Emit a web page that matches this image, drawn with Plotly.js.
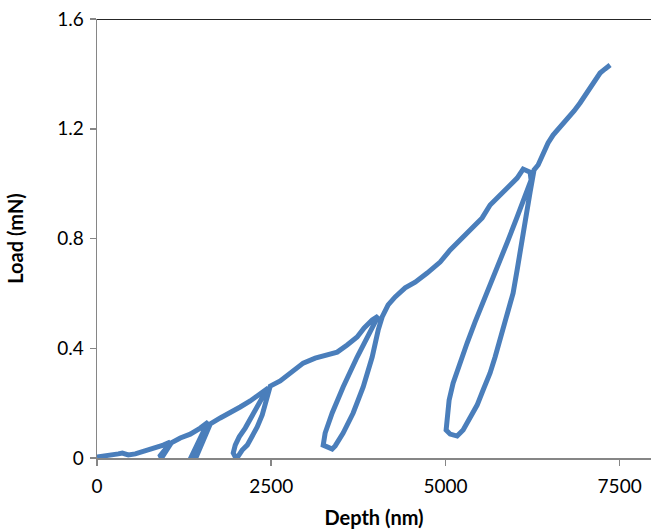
<!DOCTYPE html>
<html>
<head>
<meta charset="utf-8">
<script src="https://cdn.plot.ly/plotly-3.0.1.min.js"></script>
<style>html,body{margin:0;padding:0;background:#fff;}#chart{width:651px;height:530px;}</style>
</head>
<body>
<div id="chart"></div>
<script>
// Depth (nm) and Load (mN), in drawing order
const depthNm = [
  0,119,219,306,363,449,549,693,836,951,1051,
  1023,951,894,937,994,1066,
  1195,1338,1482,1597,
  1525,1439,1353,1424,1496,1568,1625,
  1769,1912,2055,2199,2342,2457,
  2385,2299,2199,2127,2041,1984,1955,1984,
  2027,2084,2156,2228,2299,2371,2414,2457,2486,
  2629,2816,2959,3131,3303,3447,3590,3733,3834,3949,4035,
  3877,3733,3532,3375,3274,3246,3375,
  3418,3532,3676,3820,3949,4035,4092,
  4178,4279,4422,4566,4738,4924,5068,5168,5283,5398,5527,5641,5784,5928,6029,6115,6215,
  6229,6143,6028,5900,5785,5656,5541,5426,5311,5211,5110,5053,5024,5010,5068,5168,
  5254,5354,5455,5541,5641,5713,5785,5885,5971,6029,6072,6129,6172,6215,6244,6272,
  6330,6401,6473,6545,6645,6746,6846,6932,7004,7076,7148,7219,7291,7363
];
const loadMn = [
  0.004,0.007,0.011,0.015,0.018,0.011,0.015,0.026,0.036,0.047,0.058,
  0.044,0.022,0.004,0.004,0.029,0.055,
  0.073,0.087,0.109,0.131,
  0.095,0.051,0.004,0.004,0.044,0.087,0.124,
  0.146,0.164,0.186,0.208,0.233,0.255,
  0.226,0.186,0.146,0.109,0.077,0.047,0.018,0.004,
  0.007,0.029,0.047,0.080,0.113,0.157,0.193,0.230,0.262,
  0.281,0.321,0.346,0.364,0.375,0.386,0.412,0.441,0.474,0.503,0.517,
  0.441,0.368,0.259,0.164,0.091,0.047,0.033,
  0.044,0.091,0.164,0.259,0.368,0.466,0.514,
  0.558,0.587,0.620,0.641,0.674,0.714,0.758,0.784,0.809,0.842,0.875,0.922,0.958,0.999,1.020,1.053,1.042,
  1.013,0.951,0.878,0.794,0.722,0.641,0.576,0.496,0.419,0.346,0.273,0.211,0.149,0.102,0.087,0.080,
  0.102,0.149,0.193,0.248,0.310,0.368,0.430,0.517,0.601,0.685,0.758,0.838,0.904,0.969,1.024,1.050,
  1.068,1.112,1.148,1.177,1.206,1.232,1.265,1.294,1.323,1.352,1.378,1.403,1.418,1.432
];
const xTickVals = [0, 2500, 5000, 7500];
const xTickText = ["0", "2500", "5000", "7500"];
const yTickVals = [0, 0.4, 0.8, 1.2, 1.6];
const yTickText = ["0", "0.4", "0.8", "1.2", "1.6"];
const xTitle = "Depth (nm)";
const yTitle = "Load (mN)";

const trace = {
  x: depthNm, y: loadMn, type: 'scatter', mode: 'lines',
  line: {color: '#4A7EBB', width: 5, shape: 'linear'},
  hoverinfo: 'skip'
};

const axisCommon = {
  showgrid: false, zeroline: false, showline: true,
  linecolor: '#868686', linewidth: 1.5,
  ticks: 'outside', ticklen: 6, tickwidth: 1.5, tickcolor: '#868686',
  tickfont: {family: 'Lato, sans-serif', size: 19, color: '#000'}
};

const layout = {
  width: 651, height: 530,
  margin: {l: 97, r: 0, t: 19, b: 72},
  paper_bgcolor: '#fff', plot_bgcolor: '#fff',
  showlegend: false,
  xaxis: Object.assign({}, axisCommon, {
    range: [0, 7950], tickmode: 'array', tickvals: xTickVals, ticktext: xTickText,
    ticklabelstandoff: 5,
    title: {text: xTitle, font: {family: 'Lato, sans-serif', size: 20, color: '#000', weight: 'bold'}, standoff: 14}
  }),
  yaxis: Object.assign({}, axisCommon, {
    range: [0, 1.6], tickmode: 'array', tickvals: yTickVals, ticktext: yTickText,
    ticklabelstandoff: 2,
    title: {text: yTitle, font: {family: 'Lato, sans-serif', size: 20, color: '#000', weight: 'bold'}, standoff: 28}
  }),
  shapes: [{type: 'line', xref: 'paper', yref: 'y', x0: 0, x1: 1, y0: 1.6, y1: 1.6,
            line: {color: '#262626', width: 2}}]
};

Plotly.newPlot('chart', [trace], layout, {displayModeBar: false, staticPlot: true});
</script>
</body>
</html>
